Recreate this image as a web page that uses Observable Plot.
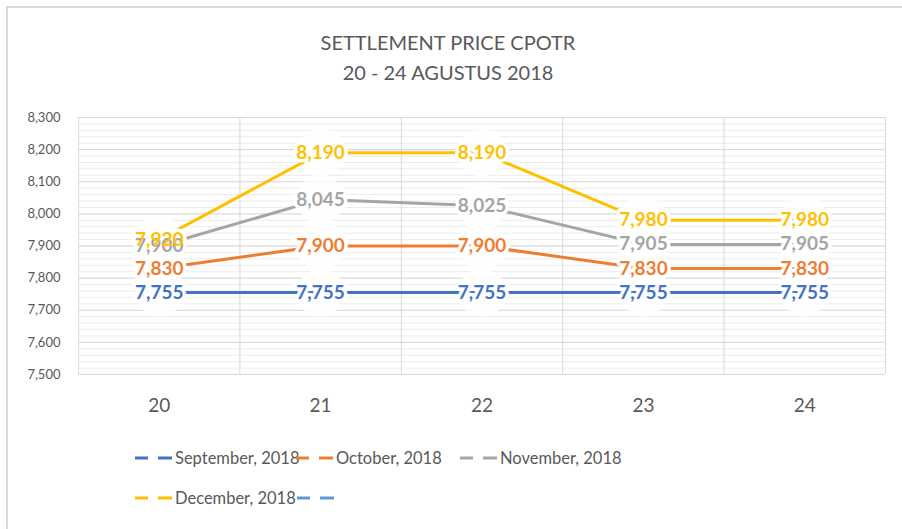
<!DOCTYPE html>
<html>
<head>
<meta charset="utf-8">
<script src="https://cdn.jsdelivr.net/npm/d3@7"></script>
<script src="https://cdn.jsdelivr.net/npm/@observablehq/plot@0.6"></script>
<style>
  body { margin: 0; background: #fff; }
  #wrap { position: relative; width: 902px; height: 529px; overflow: hidden; font-family: Lato, sans-serif; color: #595959; }
  #frame { position: absolute; left: 6px; top: 6px; right: -4px; bottom: -4px; border-top: 2px solid #d9d9d9; border-left: 2px solid #d9d9d9; }
  #title { position: absolute; left: 0; top: 27px; width: 896px; text-align: center; font-size: 20px; line-height: 30px; }
  #chart { position: absolute; left: 0; top: 100px; }
  .leg { position: absolute; display: flex; align-items: center; font-size: 16.5px; white-space: nowrap; height: 24px; }
  .leg svg { display: block; margin-right: 2px; }
</style>
</head>
<body>
<div id="wrap">
  <div id="frame"></div>
  <div id="title">SETTLEMENT PRICE CPOTR<br>20 - 24 AGUSTUS 2018</div>
  <div id="chart"></div>
  <div id="legend"></div>
</div>
<script>
// ---- data ----
const days = [20, 21, 22, 23, 24];
const seriesNames = ["September, 2018", "October, 2018", "November, 2018", "December, 2018"];
const september = [7755, 7755, 7755, 7755, 7755];
const october   = [7830, 7900, 7900, 7830, 7830];
const november  = [7900, 8045, 8025, 7905, 7905];
const december  = [7920, 8190, 8190, 7980, 7980];
const yTicks = [7500, 7600, 7700, 7800, 7900, 8000, 8100, 8200, 8300];
const legendNames = ["September, 2018", "October, 2018", "November, 2018", "December, 2018", ""];

// ---- styling ----
const colors = ["#4472C4", "#ED7D31", "#A5A5A5", "#FFC000"];
const legendColors = ["#4472C4", "#ED7D31", "#A5A5A5", "#FFC000", "#5B9BD5"];

const seriesValues = [september, october, november, december];
const rows = [];
seriesNames.forEach((name, i) => {
  days.forEach((d, j) => rows.push({series: name, day: d, value: seriesValues[i][j]}));
});

const minorTicks = d3.range(yTicks[0], yTicks[yTicks.length - 1] + 1, 20);
const bounds = [days[0] - 0.5, ...days.map(d => d + 0.5)];
const fmt = d3.format(",");

const chart = Plot.plot({
  width: 902,
  height: 330,
  marginLeft: 78,
  marginRight: 17,
  marginTop: 17,
  marginBottom: 56,
  style: {fontFamily: "Lato, sans-serif", color: "#595959", background: "transparent"},
  x: {domain: [days[0] - 0.5, days[days.length - 1] + 0.5]},
  y: {domain: [yTicks[0], yTicks[yTicks.length - 1]]},
  color: {domain: seriesNames, range: colors},
  marks: [
    Plot.ruleY(minorTicks, {stroke: "#ececec", strokeWidth: 1}),
    Plot.ruleY(yTicks, {stroke: "#d9d9d9", strokeWidth: 1}),
    Plot.ruleX(bounds, {stroke: "#d9d9d9", strokeWidth: 1}),
    Plot.dot(rows, {x: "day", y: "value", r: 24, fill: "white", fillOpacity: 0.85, stroke: "none"}),
    Plot.line(rows, {x: "day", y: "value", z: "series", stroke: "series", strokeWidth: 3}),
    Plot.text(rows, {x: "day", y: "value", text: d => fmt(d.value), fill: "none", stroke: "white", strokeWidth: 7, strokeLinejoin: "round", fontSize: 19, fontWeight: "bold"}),
    Plot.text(rows, {x: "day", y: "value", text: d => fmt(d.value), fill: "series", fontSize: 19, fontWeight: "bold"}),
    Plot.axisY({ticks: yTicks, tickFormat: fmt, tickSize: 0, tickPadding: 18, fontSize: 13, label: null}),
    Plot.axisX({ticks: days, tickFormat: d => String(d), tickSize: 0, tickPadding: 24, fontSize: 19, label: null})
  ]
});
document.getElementById("chart").appendChild(chart);

// ---- legend (HTML) ----
const legendLayout = [
  {left: 135, top: 446}, {left: 296, top: 446}, {left: 460, top: 446},
  {left: 135, top: 486}, {left: 297, top: 486}
];
const legend = document.getElementById("legend");
legendNames.forEach((name, i) => {
  const el = document.createElement("div");
  el.className = "leg";
  el.style.left = legendLayout[i].left + "px";
  el.style.top = legendLayout[i].top + "px";
  const c = legendColors[i];
  el.innerHTML = `<svg width="38" height="6"><line x1="0" y1="3" x2="13" y2="3" stroke="${c}" stroke-width="3"/><line x1="23" y1="3" x2="37" y2="3" stroke="${c}" stroke-width="3"/></svg><span>${name}</span>`;
  legend.appendChild(el);
});
</script>
</body>
</html>
